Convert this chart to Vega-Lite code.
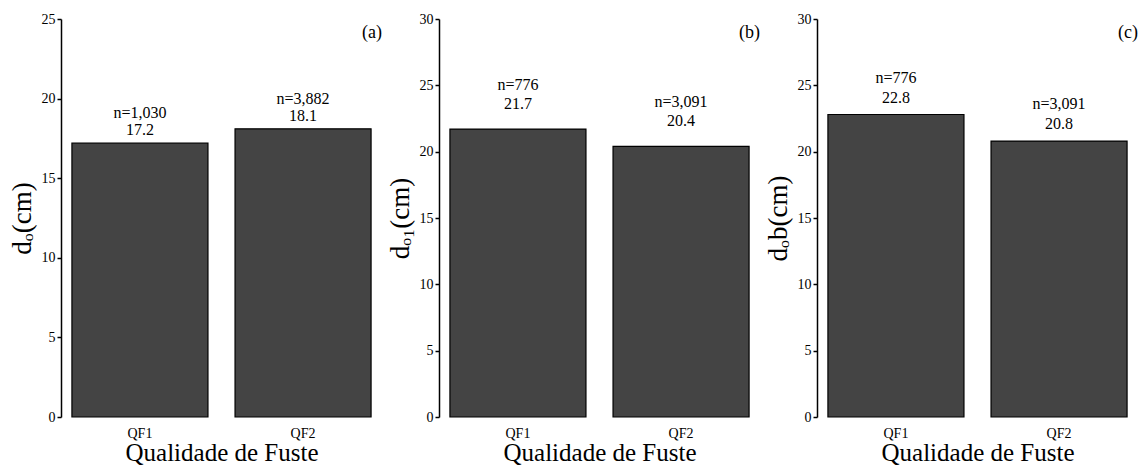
{
  "$schema": "https://vega.github.io/schema/vega-lite/v6.json",
  "padding": {"left": 8, "top": 12, "right": 0, "bottom": 0},
  "spacing": 4,
  "config": {
    "view": {"stroke": null},
    "font": "Liberation Serif",
    "axis": {
      "labelFont": "Liberation Serif",
      "titleFont": "Liberation Serif",
      "labelColor": "black",
      "titleColor": "black",
      "titleFontWeight": "normal",
      "domainColor": "black",
      "tickColor": "black"
    },
    "axisX": {"domain": false, "ticks": false, "labelAngle": 0, "labelFontSize": 14, "labelPadding": 9, "titleFontSize": 25, "titlePadding": 0},
    "axisY": {"grid": false, "domainWidth": 1.5, "tickSize": 4, "tickWidth": 1.5, "labelFontSize": 14, "labelPadding": 2, "titleFontSize": 27, "titlePadding": 5},
    "title": {"font": "Liberation Serif", "fontSize": 18, "fontWeight": "normal", "color": "black", "anchor": "end", "offset": -30}
  },
  "datasets": {
    "diametro": [
      {"painel": "a", "qf": "QF1", "d": 17.2, "n": 1030},
      {"painel": "a", "qf": "QF2", "d": 18.1, "n": 3882},
      {"painel": "b", "qf": "QF1", "d": 21.7, "n": 776},
      {"painel": "b", "qf": "QF2", "d": 20.4, "n": 3091},
      {"painel": "c", "qf": "QF1", "d": 22.8, "n": 776},
      {"painel": "c", "qf": "QF2", "d": 20.8, "n": 3091}
    ]
  },
  "hconcat": [
    {
      "width": 321,
      "height": 398,
      "title": {"text": "(a)"},
      "data": {"name": "diametro"},
      "transform": [
        {"filter": "datum.painel == 'a'"},
        {"calculate": "'n=' + format(datum.n, ',')", "as": "n_rotulo"}
      ],
      "encoding": {
        "x": {"field": "qf", "type": "nominal", "scale": {"paddingInner": 0.166, "paddingOuter": 0.067}, "axis": {"title": "Qualidade de Fuste"}},
        "y": {"field": "d", "type": "quantitative", "scale": {"domain": [0, 25]}, "axis": {"title": "dₒ(cm)", "values": [0, 5, 10, 15, 20, 25]}}
      },
      "layer": [
        {"mark": {"type": "bar", "fill": "#444444", "stroke": "black", "strokeWidth": 1.2}},
        {"mark": {"type": "text", "baseline": "alphabetic", "dy": -8, "fontSize": 16}, "encoding": {"text": {"field": "d", "type": "quantitative", "format": ".1f"}}},
        {"mark": {"type": "text", "baseline": "alphabetic", "dy": -25, "fontSize": 16}, "encoding": {"text": {"field": "n_rotulo", "type": "nominal"}}}
      ]
    },
    {
      "width": 321,
      "height": 398,
      "title": {"text": "(b)"},
      "data": {"name": "diametro"},
      "transform": [
        {"filter": "datum.painel == 'b'"},
        {"calculate": "'n=' + format(datum.n, ',')", "as": "n_rotulo"}
      ],
      "encoding": {
        "x": {"field": "qf", "type": "nominal", "scale": {"paddingInner": 0.166, "paddingOuter": 0.067}, "axis": {"title": "Qualidade de Fuste"}},
        "y": {"field": "d", "type": "quantitative", "scale": {"domain": [0, 30]}, "axis": {"title": "dₒ₁(cm)", "values": [0, 5, 10, 15, 20, 25, 30]}}
      },
      "layer": [
        {"mark": {"type": "bar", "fill": "#444444", "stroke": "black", "strokeWidth": 1.2}},
        {"mark": {"type": "text", "baseline": "alphabetic", "dy": -20, "fontSize": 16}, "encoding": {"text": {"field": "d", "type": "quantitative", "format": ".1f"}}},
        {"mark": {"type": "text", "baseline": "alphabetic", "dy": -39, "fontSize": 16}, "encoding": {"text": {"field": "n_rotulo", "type": "nominal"}}}
      ]
    },
    {
      "width": 321,
      "height": 398,
      "title": {"text": "(c)"},
      "data": {"name": "diametro"},
      "transform": [
        {"filter": "datum.painel == 'c'"},
        {"calculate": "'n=' + format(datum.n, ',')", "as": "n_rotulo"}
      ],
      "encoding": {
        "x": {"field": "qf", "type": "nominal", "scale": {"paddingInner": 0.166, "paddingOuter": 0.067}, "axis": {"title": "Qualidade de Fuste"}},
        "y": {"field": "d", "type": "quantitative", "scale": {"domain": [0, 30]}, "axis": {"title": "dₒb(cm)", "values": [0, 5, 10, 15, 20, 25, 30]}}
      },
      "layer": [
        {"mark": {"type": "bar", "fill": "#444444", "stroke": "black", "strokeWidth": 1.2}},
        {"mark": {"type": "text", "baseline": "alphabetic", "dy": -12, "fontSize": 16}, "encoding": {"text": {"field": "d", "type": "quantitative", "format": ".1f"}}},
        {"mark": {"type": "text", "baseline": "alphabetic", "dy": -32, "fontSize": 16}, "encoding": {"text": {"field": "n_rotulo", "type": "nominal"}}}
      ]
    }
  ]
}
